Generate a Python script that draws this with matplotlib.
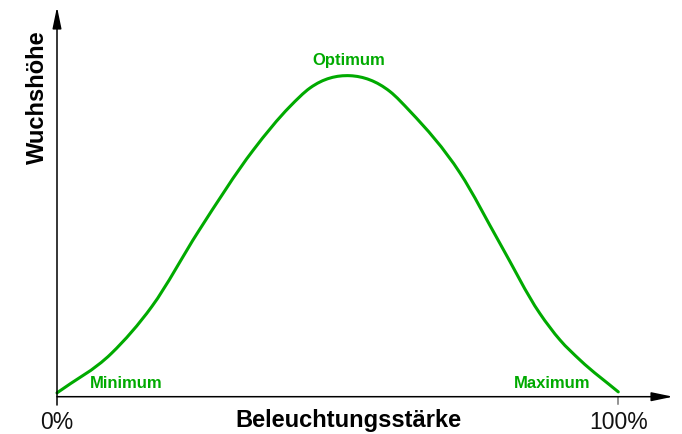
import matplotlib
matplotlib.use("Agg")
import matplotlib.pyplot as plt
from matplotlib.path import Path
from matplotlib.patches import PathPatch

# Beleuchtungsstärke in %, Wuchshöhe (relativ, Optimum = 100)
staerke = [0, 9.7, 16.9, 25.2, 35.0, 41.5, 45.1, 52.2, 59.3, 62.9, 71.8,
           78.9, 86.0, 89.6, 93.2, 100]
hoehe = [1.2, 13.5, 28.1, 51.5, 76.9, 90.4, 96.2, 100, 95.1, 88.9, 69.7,
         47.8, 26.0, 17.7, 11.4, 1.5]

punkte = ["Minimum", "Optimum", "Maximum"]
punkte_x = [12.3, 52.0, 88.3]
punkte_y = [2.8, 103.3, 2.8]

tick_labels = ["0%", "100%"]
tick_pos = [0, 100]

gruen = "#00aa00"
normal = ["Liberation Sans", "DejaVu Sans"]


def glatte_kurve(xs, ys):
    # kubische Hermite-Segmente durch die Punkte, als Bezier-Pfad
    n = len(xs)
    h = [xs[i + 1] - xs[i] for i in range(n - 1)]
    d = [(ys[i + 1] - ys[i]) / h[i] for i in range(n - 1)]
    m = [d[0]]
    for i in range(1, n - 1):
        m.append((h[i] * d[i - 1] + h[i - 1] * d[i]) / (h[i - 1] + h[i]))
    m.append(d[-1])
    verts = [(xs[0], ys[0])]
    codes = [Path.MOVETO]
    for i in range(n - 1):
        s = h[i] / 3
        verts += [(xs[i] + s, ys[i] + s * m[i]),
                  (xs[i + 1] - s, ys[i + 1] - s * m[i + 1]),
                  (xs[i + 1], ys[i + 1])]
        codes += [Path.CURVE4] * 3
    return Path(verts, codes)


fig = plt.figure(figsize=(6.82, 4.34), dpi=100)
ax = fig.add_axes([57 / 682, 37.3 / 434, 616 / 682, 389.7 / 434])
ax.set_xlim(0, 109.75)
ax.set_ylim(0, 121.4)
ax.axis("off")

ax.add_patch(PathPatch(glatte_kurve(staerke, hoehe), facecolor="none",
                       edgecolor=gruen, lw=2.2, capstyle="round",
                       clip_on=False, zorder=3))

# Achsen mit Pfeilen
pfeil = dict(arrowstyle="-|>,head_length=1.3,head_width=0.27", lw=1.1,
             color="black", shrinkA=0, shrinkB=0)
ax.annotate("", xy=(109.75, 0), xytext=(0, 0), arrowprops=pfeil,
            annotation_clip=False)
ax.annotate("", xy=(0, 121.4), xytext=(0, -2.6), arrowprops=pfeil,
            annotation_clip=False)
ax.plot([100, 100], [0, -2.3], color="#777777", lw=1.1, clip_on=False)

for name, x, y in zip(punkte, punkte_x, punkte_y):
    ax.text(x, y, name, color=gruen, fontsize=12, fontweight="bold",
            family=normal, ha="center", va="baseline")

for lab, x in zip(tick_labels, tick_pos):
    ax.text(x, -10.2, lab, fontsize=16.5, family=normal, ha="center",
            va="baseline", color="#111111")

ax.text(51.9, -9.35, "Beleuchtungsstärke", fontsize=17, fontweight="bold",
        family=normal, ha="center", va="baseline")
ax.text(-2.3, 93.2, "Wuchshöhe", fontsize=17, fontweight="bold",
        family=normal, rotation=90, rotation_mode="anchor", ha="center",
        va="baseline")

fig.savefig("out.png", dpi=100, facecolor="white")
